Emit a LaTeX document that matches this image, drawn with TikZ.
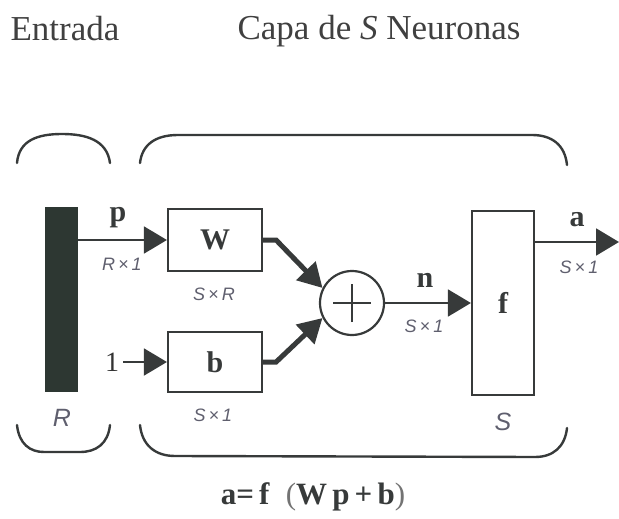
\documentclass[tikz,border=0pt]{standalone}
\usepackage{fontspec}
\setmainfont{Liberation Serif}
\setsansfont{Liberation Sans}
\usepackage{tikz}
\usepackage{xcolor}
\usetikzlibrary{arrows.meta}
\definecolor{trazo}{RGB}{55,58,58}
\definecolor{barra}{RGB}{45,55,50}
\definecolor{dimgris}{RGB}{95,95,110}

\begin{document}
\begin{tikzpicture}[x=1pt, y=-1pt,
    bloque/.style={draw=trazo, line width=2.2pt, fill=white, inner sep=0pt},
    negrita/.style={font=\fontsize{30}{32}\selectfont\bfseries, text=trazo, inner sep=0pt},
    dimlbl/.style={font=\fontsize{18}{20}\sffamily\itshape, text=dimgris, inner sep=0pt},
    tamlbl/.style={font=\fontsize{25}{27}\sffamily\itshape, text=dimgris, inner sep=0pt},
    titulo/.style={font=\fontsize{35}{38}\selectfont, text=black!75, inner sep=0pt},
    flecha/.style={draw=trazo, line width=2pt, -{Triangle[length=23pt, width=27pt]}},
    gruesa/.style={draw=trazo, line width=5pt, -{Triangle[length=24pt, width=26pt]}},
    llave/.style={draw=trazo, line width=2.4pt, line cap=round}]
  \useasboundingbox (0,0) rectangle (619,519);
  % escala: 1 unidad = 1 pixel de la figura original
  \def\yW{240}
  \def\yb{362}
  \def\ysum{303}
  % titulos
  \node[titulo] (entrada) at (65,29) {Entrada};
  \node[titulo] (capa) at (379,31) {Capa de \textit{S} Neuronas};
  % llaves superiores
  \draw[llave] (17,163) .. controls (19,140) and (38,134) .. (62,134)
    .. controls (86,134) and (107,140) .. (110,163);
  \draw[llave] (140,163) .. controls (142,145) and (155,135) .. (178,135)
    -- (532,135) .. controls (552,135) and (565,145) .. (567,165);
  % bloques
  \node[fill=barra, minimum width=33, minimum height=185, inner sep=0pt] (entr) at (61.5,299.5) {};
  \node[bloque, minimum width=94, minimum height=62, negrita] (W) at (215,\yW) {W};
  \node[bloque, minimum width=94, minimum height=60, negrita] (b) at (215,\yb) {b};
  \node[bloque, circle, minimum size=64] (sum) at (352,\ysum) {};
  \draw[trazo, line width=1.8pt] ([xshift=-19pt]sum.center) -- ([xshift=19pt]sum.center)
    ([yshift=-19pt]sum.center) -- ([yshift=19pt]sum.center);
  \node[bloque, minimum width=62, minimum height=184, negrita] (f) at (503,\ysum) {f};
  \node[negrita, font=\fontsize{28}{30}\selectfont, text=black!80] (uno) at (112,362) {1};
  \coordinate (salida) at (619,242);
  % conexiones
  \draw[flecha] (entr.east |- W.west) -- (W.west);
  \draw[flecha] (uno.east) ++(4,0) -- (b.west);
  \draw[gruesa] (W.east) -- ++(13,0) -- (sum.153);
  \draw[gruesa] (b.east) -- ++(13,0) -- (sum.207);
  \draw[flecha] (sum.east) -- (f.west);
  \draw[flecha] (f.east |- salida) -- (salida);
  % etiquetas
  \node[negrita] (lp) at (118,218) {p};
  \node[dimlbl] (dp) at (122,264) {R\,×\,1};
  \node[dimlbl] (dW) at (214,294) {S\,×\,R};
  \node[dimlbl] (db) at (213,415) {S\,×\,1};
  \node[negrita] (ln) at (425,280) {n};
  \node[dimlbl] (dn) at (424,326) {S\,×\,1};
  \node[negrita] (la) at (577,220) {a};
  \node[dimlbl] (da) at (579,267) {S\,×\,1};
  \node[tamlbl] (tR) at (62,418) {R};
  \node[tamlbl] (tS) at (503,422) {S};
  % llaves inferiores
  \draw[llave] (17,425) .. controls (19,444) and (30,452) .. (44,452)
    -- (80,452) .. controls (96,452) and (108,444) .. (110,425);
  \draw[llave] (140,425) .. controls (142,445) and (155,456) .. (175,456)
    -- (535,457) .. controls (553,457) and (565,447) .. (567,428);
  % ecuacion
  \node[negrita, font=\fontsize{31}{33}\selectfont\bfseries] (ec) at (313,497)
    {a=\,f\; {\mdseries\color{black!55}(}W\,p\,+\,b{\mdseries\color{black!55})}};
\end{tikzpicture}
\end{document}
